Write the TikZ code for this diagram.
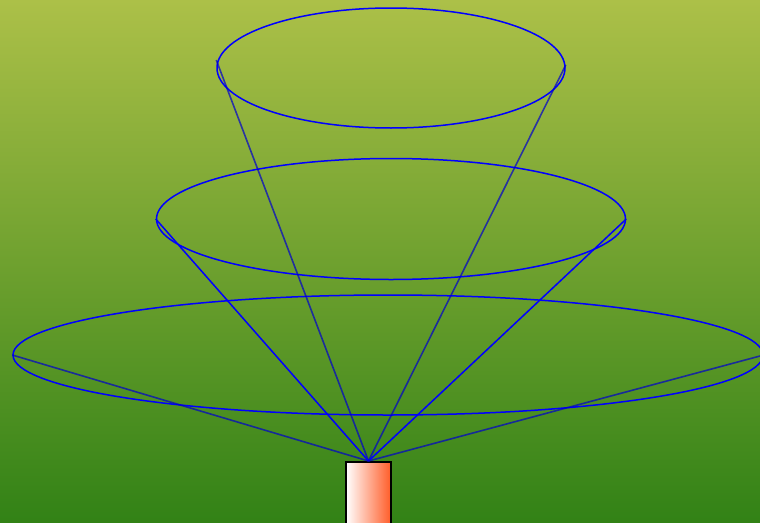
\documentclass[tikz,border=0pt]{standalone}
\usepackage{tikz}
\usetikzlibrary{shapes.geometric, positioning}
\definecolor{skytop}{RGB}{172,192,72}
\definecolor{grassbot}{RGB}{50,130,22}
\definecolor{flame}{RGB}{255,92,40}

\begin{document}
\begin{tikzpicture}[x=1pt, y=-1pt,
    ring/.style={draw=blue, ellipse, line width=1.5pt, inner sep=0pt},
    ray/.style={draw=blue, line width=1.5pt},
    faint/.style={draw=blue!80!black, line width=1.6pt, opacity=0.7}]

  % background
  \shade[top color=skytop, bottom color=grassbot] (0,0) rectangle (760,522);
  \useasboundingbox (0,0) rectangle (760,522);

  % rings
  \node[ring, minimum width=348pt, minimum height=120pt] (top) at (391,68) {};
  \node[ring, minimum width=469pt, minimum height=121pt] (mid) at (391,219) {};
  \node[ring, minimum width=750pt, minimum height=120pt] (low) at (388,355) {};

  % lamp
  \node[draw=black, line width=1.6pt, anchor=north, minimum width=45pt,
        minimum height=62pt, inner sep=0pt, left color=white,
        right color=flame] (lamp) at (368.5,461) {};

  \draw[faint] (lamp.north) -- ([yshift=8pt]top.west);
  \draw[faint] (lamp.north) -- ([yshift=3pt]top.east);
  \draw[ray] (lamp.north) -- (mid.west);
  \draw[ray] (lamp.north) -- (mid.east);
  \draw[faint] (lamp.north) -- (low.west);
  \draw[faint] (lamp.north) -- (low.east);

\end{tikzpicture}
\end{document}
